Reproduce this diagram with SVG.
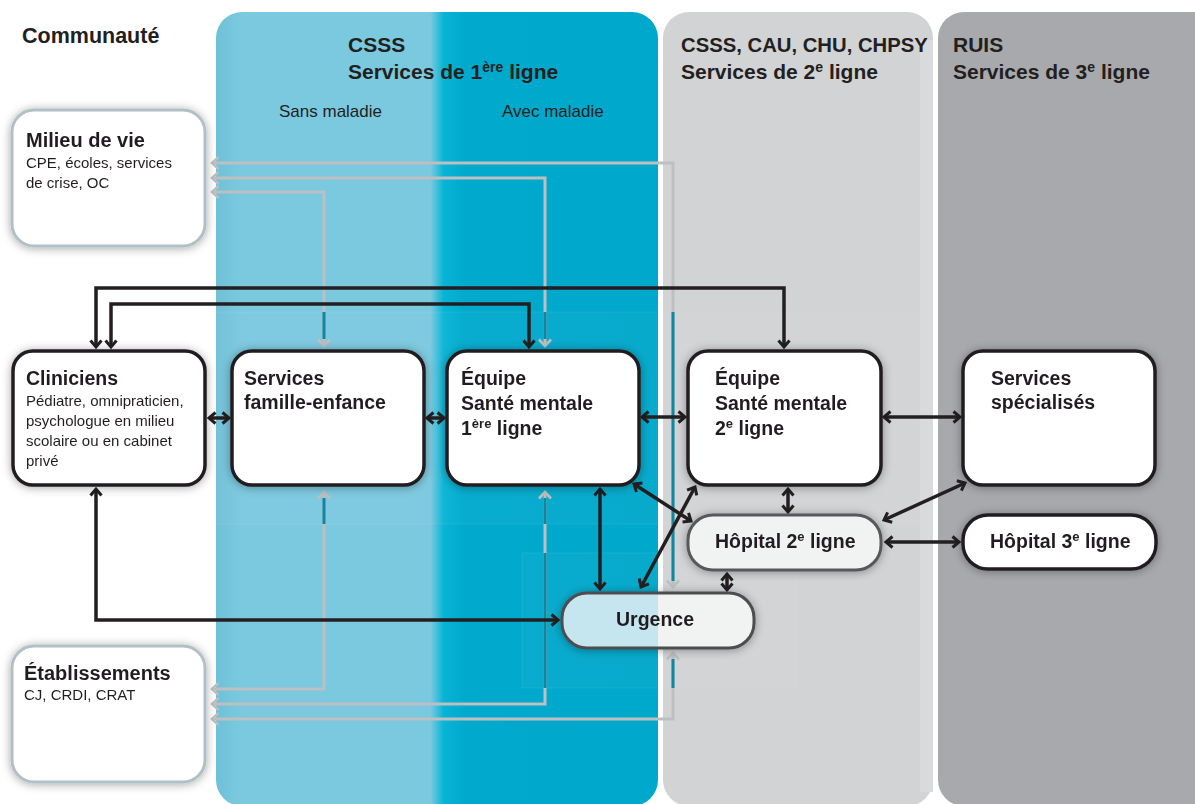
<svg xmlns="http://www.w3.org/2000/svg" width="1195" height="804" viewBox="0 0 1195 804">
<style>
text{font-family:"Liberation Sans",Arial,sans-serif;fill:#231f20}
.h{font-size:21px;font-weight:bold}
.sub{font-size:17px}
.t{font-size:19.5px;font-weight:bold}
.s{font-size:15px}
.node{fill:#fff;stroke:#231f20;stroke-width:3.5}
.ext{fill:#fff;stroke:#afc0c6;stroke-width:3}
.blk{fill:none;stroke:#231f20;stroke-width:3.5;marker-start:url(#ab);marker-end:url(#ab)}
.gry{fill:none;stroke:#bdbfc1;stroke-width:3;marker-start:url(#ag);marker-end:url(#ag)}
.teal{fill:none;stroke:#0f87a1;stroke-width:3}
</style>
<defs>
<linearGradient id="blue" gradientUnits="userSpaceOnUse" x1="216" y1="0" x2="658" y2="0">
<stop offset="0" stop-color="#6fc1d8"/>
<stop offset="0.06" stop-color="#7bc9df"/>
<stop offset="0.485" stop-color="#7bc9df"/>
<stop offset="0.515" stop-color="#08b4d6"/>
<stop offset="0.56" stop-color="#00aacd"/>
<stop offset="1" stop-color="#00a8cb"/>
</linearGradient>
<linearGradient id="urg" gradientUnits="userSpaceOnUse" x1="562" y1="0" x2="754" y2="0">
<stop offset="0" stop-color="#c6e6ef"/>
<stop offset="0.5" stop-color="#c6e6ef"/>
<stop offset="0.5" stop-color="#f1f2f2"/>
<stop offset="1" stop-color="#f1f2f2"/>
</linearGradient>
<filter id="sh" x="-20%" y="-20%" width="140%" height="140%">
<feDropShadow dx="0" dy="1" stdDeviation="5" flood-color="#000" flood-opacity="0.35"/>
</filter>
<marker id="ab" viewBox="-10 -8 13 16" refX="0" refY="0" markerWidth="13" markerHeight="16" markerUnits="userSpaceOnUse" orient="auto-start-reverse">
<path d="M-6.5,-5.5 L0,0 L-6.5,5.5" fill="none" stroke="#231f20" stroke-width="3"/>
</marker>
<marker id="ag" viewBox="-10 -8 13 16" refX="0" refY="0" markerWidth="13" markerHeight="16" markerUnits="userSpaceOnUse" orient="auto-start-reverse">
<path d="M-6.5,-6 L0,0 L-6.5,6" fill="none" stroke="#bdbfc1" stroke-width="2.6"/>
</marker>
</defs>
<rect width="1195" height="804" fill="#fff"/>
<g id="panels">
<rect x="216" y="12" width="442" height="794" rx="26" fill="url(#blue)"/>
<rect x="663" y="12" width="270" height="794" rx="26" fill="#d1d3d4"/>
<rect x="920" y="40" width="13" height="752" fill="#d9dadc"/>
<rect x="938" y="12" width="290" height="794" rx="26" fill="#a7a9ac"/>
<rect x="195" y="312" width="725" height="212" fill="#fff" fill-opacity="0.03" stroke="#fff" stroke-opacity="0.08"/>
<rect x="522" y="553" width="275" height="135" fill="#fff" fill-opacity="0.03" stroke="#fff" stroke-opacity="0.08"/>
</g>
<g id="headers">
<text class="h" x="22" y="43" style="font-size:21.5px">Communauté</text>
<text class="h" x="348" y="52">CSSS</text>
<text class="h" x="348" y="79">Services de 1<tspan font-size="14" dy="-7">ère</tspan><tspan dy="7"> ligne</tspan></text>
<text class="sub" x="279" y="117">Sans maladie</text>
<text class="sub" x="502" y="117">Avec maladie</text>
<text class="h" x="681" y="52" style="font-size:20.3px">CSSS, CAU, CHU, CHPSY</text>
<text class="h" x="681" y="79">Services de 2<tspan font-size="14" dy="-7">e</tspan><tspan dy="7"> ligne</tspan></text>
<text class="h" x="953" y="52">RUIS</text>
<text class="h" x="953" y="79">Services de 3<tspan font-size="14" dy="-7">e</tspan><tspan dy="7"> ligne</tspan></text>
</g>
<g id="connectors">
<path class="gry" d="M212,192 H324 V346"/>
<path class="gry" d="M212,178 H545 V346"/>
<path class="gry" d="M212,163 H673 V587"/>
<path class="gry" d="M324,492 V689 H212"/>
<path class="gry" d="M545,492 V704 H212"/>
<path class="gry" d="M673,653 V719 H212"/>
<path class="teal" d="M324,312 V339 M545,312 V339 M673,312 V581 M324,498 V524 M545,498 V524 M545,553 V688 M673,659 V688"/>
<path class="blk" d="M96,347 V288 H784 V347"/>
<path class="blk" d="M111,347 V304 H529 V347"/>
<path class="blk" d="M96,489 V620 H558"/>
<path class="blk" d="M209,418 H229"/>
<path class="blk" d="M427,418 H444"/>
<path class="blk" d="M642,417 H685"/>
<path class="blk" d="M884,417 H960"/>
<path class="blk" d="M600,489 V589"/>
<path class="blk" d="M634,484 L691,521"/>
<path class="blk" d="M695,487 L641,587"/>
<path class="blk" d="M788,489 V512"/>
<path class="blk" d="M727,574 V590"/>
<path class="blk" d="M965,483 L884,520"/>
<path class="blk" d="M886,542 H959"/>
</g>
<g id="milieu" filter="url(#sh)">
<rect class="ext" x="12" y="110" width="193" height="136" rx="22"/>
<text class="t" x="26" y="147" style="font-size:20px">Milieu de vie</text>
<text class="s" x="26" y="168">CPE, écoles, services</text>
<text class="s" x="26" y="188">de crise, OC</text>
</g>
<g id="etablissements" filter="url(#sh)">
<rect class="ext" x="12" y="646" width="193" height="136" rx="22"/>
<text class="t" x="24" y="680" style="font-size:20px">Établissements</text>
<text class="s" x="24" y="700">CJ, CRDI, CRAT</text>
</g>
<g id="cliniciens" filter="url(#sh)">
<rect class="node" x="13" y="351" width="192" height="134" rx="20"/>
<text class="t" x="26" y="385">Cliniciens</text>
<text class="s" x="26" y="406">Pédiatre, omnipraticien,</text>
<text class="s" x="26" y="426">psychologue en milieu</text>
<text class="s" x="26" y="446">scolaire ou en cabinet</text>
<text class="s" x="26" y="466">privé</text>
</g>
<g id="famille" filter="url(#sh)">
<rect class="node" x="232" y="351" width="192" height="134" rx="20"/>
<text class="t" x="244" y="385">Services</text>
<text class="t" x="244" y="409">famille-enfance</text>
</g>
<g id="equipe1" filter="url(#sh)">
<rect class="node" x="447" y="351" width="192" height="134" rx="20"/>
<text class="t" x="461" y="385">Équipe</text>
<text class="t" x="461" y="410">Santé mentale</text>
<text class="t" x="461" y="435">1<tspan font-size="13" dy="-7">ère</tspan><tspan dy="7"> ligne</tspan></text>
</g>
<g id="equipe2" filter="url(#sh)">
<rect class="node" x="688" y="351" width="193" height="134" rx="20"/>
<text class="t" x="715" y="385">Équipe</text>
<text class="t" x="715" y="410">Santé mentale</text>
<text class="t" x="715" y="435">2<tspan font-size="13" dy="-7">e</tspan><tspan dy="7"> ligne</tspan></text>
</g>
<g id="specialises" filter="url(#sh)">
<rect class="node" x="963" y="351" width="192" height="134" rx="20"/>
<text class="t" x="991" y="385">Services</text>
<text class="t" x="991" y="409">spécialisés</text>
</g>
<g id="hopital2" filter="url(#sh)">
<rect x="688" y="515" width="193" height="55" rx="25" fill="#f1f2f2" stroke="#58595b" stroke-width="3"/>
<text class="t" x="715" y="548">Hôpital 2<tspan font-size="13" dy="-7">e</tspan><tspan dy="7"> ligne</tspan></text>
</g>
<g id="hopital3" filter="url(#sh)">
<rect class="node" x="963" y="515" width="193" height="54" rx="25"/>
<text class="t" x="990" y="548">Hôpital 3<tspan font-size="13" dy="-7">e</tspan><tspan dy="7"> ligne</tspan></text>
</g>
<g id="urgence" filter="url(#sh)">
<rect x="562" y="593" width="192" height="55" rx="25" fill="url(#urg)" stroke="#4d4d4f" stroke-width="3"/>
<text class="t" x="655" y="626" text-anchor="middle">Urgence</text>
</g>
</svg>
